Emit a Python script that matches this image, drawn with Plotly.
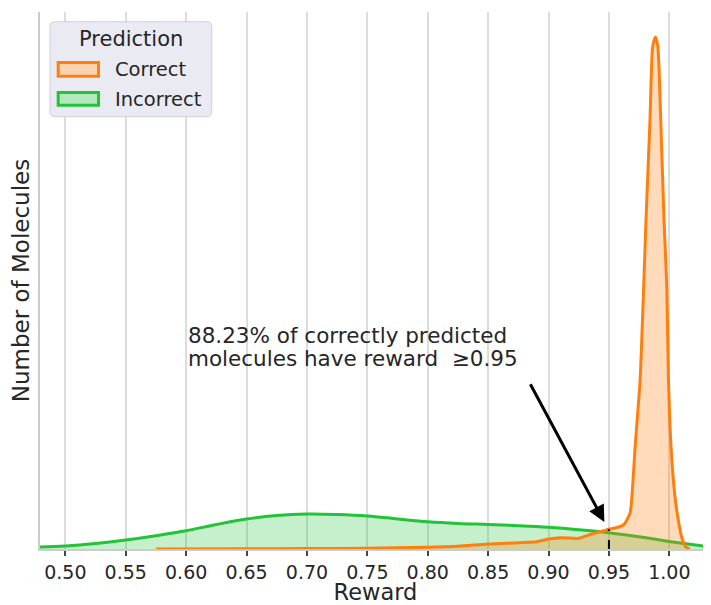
import numpy as np
import plotly.graph_objects as go

# ---------------- data ----------------
correct_x = [0.575, 0.65, 0.70, 0.75, 0.80, 0.825, 0.85, 0.875, 0.89, 0.90, 0.91, 0.925,
             0.935, 0.945, 0.95, 0.955, 0.962, 0.9675, 0.969, 0.9717, 0.9758, 0.978, 0.9807,
             0.984, 0.9862, 0.9885, 0.9905, 0.9929, 0.9956, 0.9979, 0.9993, 1.0014, 1.0047,
             1.0074, 1.0102, 1.0138, 1.017]
correct_y = [0.0, 0.02, 0.04, 0.07, 0.17, 0.27, 0.5, 0.63, 0.73, 1.0, 1.13, 1.07,
             1.47, 1.8, 1.97, 2.1, 2.4, 3.6, 5.2, 10.2, 16.9, 23.6, 32.9,
             42.9, 50.2, 51.2, 50.2, 42.9, 32.9, 26.2, 16.9, 10.2, 5.2,
             2.9, 1.2, 0.2, 0.0]

incorrect_x = [0.479, 0.50, 0.525, 0.55, 0.575, 0.60, 0.625, 0.65, 0.675, 0.70, 0.725, 0.75,
               0.775, 0.80, 0.825, 0.85, 0.875, 0.90, 0.925, 0.95, 0.975, 1.00, 1.02, 1.035]
incorrect_y = [0.2, 0.3, 0.55, 0.9, 1.33, 1.83, 2.45, 3.0, 3.35, 3.5, 3.45, 3.3,
               3.0, 2.72, 2.55, 2.45, 2.33, 2.17, 1.93, 1.63, 1.22, 0.76, 0.42, 0.2]

tick_vals = [0.50, 0.55, 0.60, 0.65, 0.70, 0.75, 0.80, 0.85, 0.90, 0.95, 1.00]
tick_text = ["0.50", "0.55", "0.60", "0.65", "0.70", "0.75", "0.80", "0.85", "0.90", "0.95", "1.00"]

threshold = 0.95
pct_text = "88.23%"
legend_title = "Prediction"
series_names = ["Correct", "Incorrect"]

# ---------------- styling ----------------
ORANGE = "#ff7f0e"
ORANGE_FILL = "rgba(255,127,14,0.28)"
GREEN = "#22c336"
GREEN_FILL = "rgba(34,195,54,0.26)"
TXT = "#262626"
FONT = "DejaVu Sans"

# page has an 8px body margin; the figure is sized to fit the 711x605 window
OFF = 8
W, H = 711 - OFF, 605 - OFF
PLOT_L, PLOT_T, PLOT_R, PLOT_B = 40, 12, 711, 549   # target plot box in window pixels
ML, MT = PLOT_L - OFF, PLOT_T - OFF
MR = (W + OFF) - PLOT_R
MB = (H + OFF) - PLOT_B
PW, PH = PLOT_R - PLOT_L, PLOT_B - PLOT_T

fig = go.Figure()

fig.add_trace(go.Scatter(
    x=incorrect_x, y=incorrect_y, mode="lines", name=series_names[1],
    line=dict(color=GREEN, width=3, shape="spline", smoothing=1.0),
    fill="tozeroy", fillcolor=GREEN_FILL, showlegend=False))

fig.add_trace(go.Scatter(
    x=correct_x, y=correct_y, mode="lines", name=series_names[0],
    line=dict(color=ORANGE, width=3, shape="spline", smoothing=0.6),
    fill="tozeroy", fillcolor=ORANGE_FILL, showlegend=False))

thr_y = float(np.interp(threshold, correct_x, correct_y))
fig.add_trace(go.Scatter(
    x=[threshold, threshold], y=[0, thr_y], mode="lines",
    line=dict(color="black", width=2, dash="dash"), showlegend=False, hoverinfo="skip"))

# ---------------- custom legend (window pixel -> paper helpers) ----------------
def px(xp):
    return (xp - PLOT_L) / PW

def py(yp):
    return (PLOT_B - yp) / PH

def rounded_rect(x0, y0, x1, y1, r):
    rx, ry = r / PW, r / PH
    X0, X1 = px(x0), px(x1)
    Y0, Y1 = py(y1), py(y0)  # bottom, top in paper
    return (f"M {X0+rx},{Y0} L {X1-rx},{Y0} Q {X1},{Y0} {X1},{Y0+ry} "
            f"L {X1},{Y1-ry} Q {X1},{Y1} {X1-rx},{Y1} L {X0+rx},{Y1} "
            f"Q {X0},{Y1} {X0},{Y1-ry} L {X0},{Y0+ry} Q {X0},{Y0} {X0+rx},{Y0} Z")

shapes = [
    dict(type="path", xref="paper", yref="paper",
         path=rounded_rect(50, 21.7, 211.7, 116.7, 5),
         fillcolor="#eaeaf2", line=dict(color="#d0d0d8", width=1), layer="above"),
    dict(type="rect", xref="paper", yref="paper",
         x0=px(58.2), x1=px(98.5), y0=py(76.2), y1=py(62.5),
         fillcolor="#fbd2b2", line=dict(color=ORANGE, width=3), layer="above"),
    dict(type="rect", xref="paper", yref="paper",
         x0=px(58.2), x1=px(98.5), y0=py(105.2), y1=py(92.5),
         fillcolor="#b5e8bd", line=dict(color=GREEN, width=3), layer="above"),
]

annotations = [
    dict(xref="paper", yref="paper", x=px(130.8), y=py(39), text=legend_title,
         showarrow=False, xanchor="center", yanchor="middle",
         font=dict(family=FONT, size=21, color=TXT)),
    dict(xref="paper", yref="paper", x=px(113), y=py(69), text=series_names[0],
         showarrow=False, xanchor="left", yanchor="middle",
         font=dict(family=FONT, size=19.5, color=TXT)),
    dict(xref="paper", yref="paper", x=px(113), y=py(99), text=series_names[1],
         showarrow=False, xanchor="left", yanchor="middle",
         font=dict(family=FONT, size=19.5, color=TXT)),
    # annotation text (two lines)
    dict(xref="x", yref="y", x=0.60, y=21.4, text=f"{pct_text} of correctly predicted",
         showarrow=False, xanchor="left", yanchor="middle",
         font=dict(family=FONT, size=21.5, color=TXT)),
    dict(xref="x", yref="y", x=0.60, y=19.05, text=f"molecules have reward  \u2265{threshold:.2f}",
         showarrow=False, xanchor="left", yanchor="middle",
         font=dict(family=FONT, size=21.5, color=TXT)),
    # arrow
    dict(xref="x", yref="y", axref="x", ayref="y", x=0.9462, y=2.7, ax=0.8843, ay=16.63,
         text="", showarrow=True, arrowhead=2, arrowsize=1.1, arrowwidth=3, arrowcolor="black"),
]

fig.update_layout(
    width=W, height=H,
    margin=dict(l=ML, r=MR, t=MT, b=MB),
    paper_bgcolor="white", plot_bgcolor="white",
    font=dict(family=FONT, color=TXT),
    shapes=shapes, annotations=annotations,
    showlegend=False,
)

fig.update_xaxes(
    range=[0.479, 1.0345], tickvals=tick_vals, ticktext=tick_text,
    showgrid=True, gridcolor="#dcdcdc", gridwidth=1.5,
    showline=True, linecolor="#cccccc", linewidth=1.5,
    ticks="outside", ticklen=5, tickwidth=1.5, tickcolor="#444444",
    tickfont=dict(family=FONT, size=19, color=TXT),
    title=dict(text="Reward", font=dict(family=FONT, size=22.5, color=TXT), standoff=9),
    zeroline=False, automargin=False,
)
fig.update_yaxes(
    range=[0, 53.7], showticklabels=False, ticks="", showgrid=False, zeroline=False,
    showline=True, linecolor="#cccccc", linewidth=1.5,
    title=dict(text="Number of Molecules", font=dict(family=FONT, size=23, color=TXT), standoff=6),
    automargin=False,
)

fig.write_html("out.html")
